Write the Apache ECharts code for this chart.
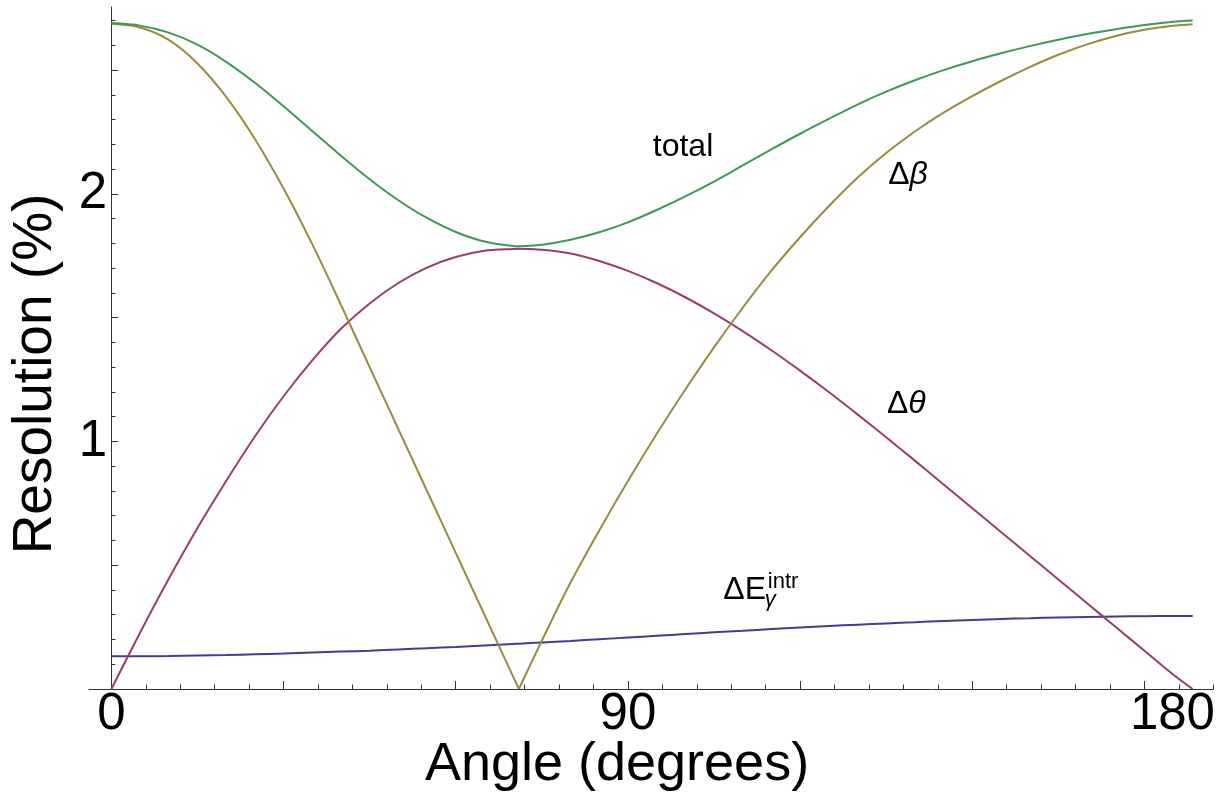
<!DOCTYPE html>
<html>
<head>
<meta charset="utf-8">
<title>Resolution vs angle</title>
<script src="https://cdn.jsdelivr.net/npm/echarts@6/dist/echarts.min.js"></script>
<style>
  html, body { margin: 0; padding: 0; background: #ffffff; }
  #chart { width: 1228px; height: 801px; }
</style>
</head>
<body>
<div id="chart"></div>
<script>
// Angle samples (degrees)
const angles = [0, 5, 10, 15, 20, 25, 30, 35, 40, 45, 50, 55, 60, 65, 70, 71,
  75, 80, 85, 90, 95, 100, 105, 110, 115, 120, 125, 130, 135, 140, 145, 150,
  155, 160, 165, 170, 175, 180, 185, 188.4];

// Resolution contributions (%)
const deltaE = [0.132, 0.132, 0.133, 0.135, 0.137, 0.140, 0.143, 0.147, 0.151, 0.155,
  0.160, 0.165, 0.170, 0.176, 0.182, 0.183, 0.188, 0.194, 0.201, 0.208, 0.215, 0.222,
  0.229, 0.235, 0.242, 0.248, 0.254, 0.260, 0.265, 0.270, 0.275, 0.279, 0.283, 0.286,
  0.289, 0.291, 0.293, 0.294, 0.295, 0.295];

const deltaTheta = [0, 0.2275, 0.445, 0.65, 0.84, 1.02, 1.1825, 1.3275, 1.455, 1.5575,
  1.64, 1.7025, 1.745, 1.77, 1.7775, 1.778, 1.774, 1.759, 1.729, 1.689, 1.64, 1.5825,
  1.5175, 1.446, 1.3685, 1.286, 1.1995, 1.1095, 1.017, 0.9225, 0.8265, 0.7305, 0.6345,
  0.5385, 0.4425, 0.3465, 0.2505, 0.1545, 0.0585, 0];

const deltaBeta = [2.687, 2.672, 2.622, 2.527, 2.392, 2.222, 2.022, 1.797, 1.552, 1.30,
  1.05, 0.80, 0.55, 0.30, 0.05, 0, 0.195, 0.43, 0.64, 0.84, 1.03, 1.21, 1.38, 1.54,
  1.69, 1.825, 1.95, 2.065, 2.165, 2.252, 2.328, 2.395, 2.456, 2.512, 2.562, 2.604,
  2.638, 2.663, 2.679, 2.685];

const total = [2.69, 2.6798, 2.6516, 2.6028, 2.5336, 2.4489, 2.354, 2.254, 2.154, 2.0591,
  1.9745, 1.9027, 1.8462, 1.8077, 1.7897, 1.789, 1.795, 1.815, 1.845, 1.885, 1.935,
  1.99, 2.05, 2.115, 2.18, 2.243, 2.303, 2.361, 2.413, 2.459, 2.5, 2.536, 2.568, 2.597,
  2.623, 2.646, 2.665, 2.682, 2.695, 2.70];

// Tick marks and tick labels
const xLabels = [0, 90, 180];
const xMajorTicks = [0, 30, 60, 90, 120, 150, 180];
const xMinorTicks = [];
for (let a = 6; a <= 192; a += 6) if (a % 30 !== 0) xMinorTicks.push(a);
const yLabels = [1, 2];
const yMajorTicks = [0.5, 1, 1.5, 2, 2.5];
const yMinorTicks = [];
for (let k = 1; k <= 27; k++) if (k % 5 !== 0) yMinorTicks.push(k / 10);

const FONT = '"Liberation Sans", Arial, Helvetica, sans-serif';
const AXIS_COLOR = '#333333';
const X_MIN = -3.9, X_MAX = 192, Y_MIN = 0, Y_MAX = 2.755;

const COLORS = {
  dE: 'rgb(63,61,153)',
  dTheta: 'rgb(153,61,113)',
  dBeta: 'rgb(153,139,61)',
  total: 'rgb(61,153,84)'
};

const pairs = values => angles.map((a, i) => [a, values[i]]);

function note(coord, formatter, rich) {
  return {
    symbol: 'rect',
    symbolSize: 1,
    itemStyle: { color: 'rgba(0,0,0,0)' },
    silent: true,
    label: {
      show: true,
      position: 'inside',
      color: '#000',
      fontFamily: FONT,
      fontSize: 32,
      formatter: formatter,
      rich: rich || {}
    },
    data: [{ coord: coord }]
  };
}

const greekRich = {
  u: { fontFamily: FONT, fontSize: 32, color: '#000' },
  i: { fontFamily: FONT, fontSize: 32, fontStyle: 'italic', color: '#000' }
};

function lineSeries(name, data, color, markPoint) {
  return {
    name: name,
    type: 'line',
    data: data,
    showSymbol: false,
    symbol: 'none',
    smooth: 0.3,
    lineStyle: { width: 2, color: color },
    itemStyle: { color: color },
    markPoint: markPoint,
    z: 3
  };
}

const deltaEMarks = {
  symbol: 'rect',
  symbolSize: 1,
  itemStyle: { color: 'rgba(0,0,0,0)' },
  silent: true,
  label: { show: true, position: 'inside', color: '#000', fontFamily: FONT },
  data: [
    { coord: [110.35, 0.398], label: { formatter: 'ΔE', fontSize: 32 } },
    { coord: [114.8, 0.36], label: { formatter: 'γ', fontSize: 22, fontStyle: 'italic' } },
    { coord: [117.05, 0.432], label: { formatter: 'intr', fontSize: 22 } }
  ]
};

// Δβ has a sharp zero: draw its two branches separately so the cusp stays sharp
const betaPairs = pairs(deltaBeta);
const cusp = deltaBeta.indexOf(Math.min.apply(null, deltaBeta));
const betaLeft = betaPairs.slice(0, cusp + 1);
const betaRight = betaPairs.slice(cusp);

const chart = echarts.init(document.getElementById('chart'), null, { renderer: 'canvas' });

chart.setOption({
  animation: false,
  backgroundColor: '#ffffff',
  grid: { left: 89, right: 14.7, top: 7, bottom: 112, containLabel: false },
  xAxis: [
    {
      type: 'value',
      min: X_MIN,
      max: X_MAX,
      position: 'bottom',
      axisLine: { show: true, onZero: true, lineStyle: { color: AXIS_COLOR, width: 1 } },
      axisTick: { show: true, inside: true, length: 8, customValues: xMajorTicks,
        lineStyle: { color: AXIS_COLOR, width: 1 } },
      axisLabel: {
        show: true,
        customValues: xLabels,
        margin: 0,
        color: '#000',
        fontFamily: FONT,
        fontSize: 51,
        formatter: v => (v === 180 ? '{r|180}' : String(v)),
        rich: { r: { fontFamily: FONT, fontSize: 51, color: '#000', padding: [0, 0, 0, 56] } }
      },
      splitLine: { show: false }
    },
    {
      type: 'value',
      min: X_MIN,
      max: X_MAX,
      position: 'bottom',
      axisLine: { show: false, onZero: true },
      axisTick: { show: true, inside: true, length: 4.5, customValues: xMinorTicks,
        lineStyle: { color: AXIS_COLOR, width: 1 } },
      axisLabel: { show: false },
      splitLine: { show: false }
    }
  ],
  yAxis: [
    {
      type: 'value',
      min: Y_MIN,
      max: Y_MAX,
      position: 'left',
      axisLine: { show: true, onZero: true, onZeroAxisIndex: 0, lineStyle: { color: AXIS_COLOR, width: 1 } },
      axisTick: { show: true, inside: true, length: 7, customValues: yMajorTicks,
        lineStyle: { color: AXIS_COLOR, width: 1 } },
      axisLabel: {
        show: true,
        customValues: yLabels,
        margin: -18,
        color: '#000',
        fontFamily: FONT,
        fontSize: 51
      },
      splitLine: { show: false }
    },
    {
      type: 'value',
      min: Y_MIN,
      max: Y_MAX,
      position: 'left',
      axisLine: { show: false, onZero: true, onZeroAxisIndex: 0 },
      axisTick: { show: true, inside: true, length: 4, customValues: yMinorTicks,
        lineStyle: { color: AXIS_COLOR, width: 1 } },
      axisLabel: { show: false },
      splitLine: { show: false }
    }
  ],
  graphic: [
    {
      type: 'text',
      x: 617,
      y: 765,
      style: {
        text: 'Angle (degrees)',
        font: '54px ' + FONT,
        fill: '#000',
        align: 'center',
        verticalAlign: 'middle',
        textAlign: 'center',
        textVerticalAlign: 'middle'
      }
    },
    {
      type: 'text',
      x: 36,
      y: 374,
      rotation: Math.PI / 2,
      style: {
        text: 'Resolution (%)',
        font: '55px ' + FONT,
        fill: '#000',
        align: 'center',
        verticalAlign: 'middle',
        textAlign: 'center',
        textVerticalAlign: 'middle'
      }
    }
  ],
  series: [
    lineSeries('ΔE', pairs(deltaE), COLORS.dE, deltaEMarks),
    lineSeries('Δθ', pairs(deltaTheta), COLORS.dTheta,
      note([138.5, 1.152], '{u|Δ}{i|θ}', greekRich)),
    lineSeries('Δβ', betaLeft, COLORS.dBeta,
      note([138.8, 2.077], '{u|Δ}{i|β}', greekRich)),
    lineSeries('Δβ', betaRight, COLORS.dBeta),
    lineSeries('total', pairs(total), COLORS.total,
      note([99.6, 2.19], 'total'))
  ]
});
</script>
</body>
</html>
